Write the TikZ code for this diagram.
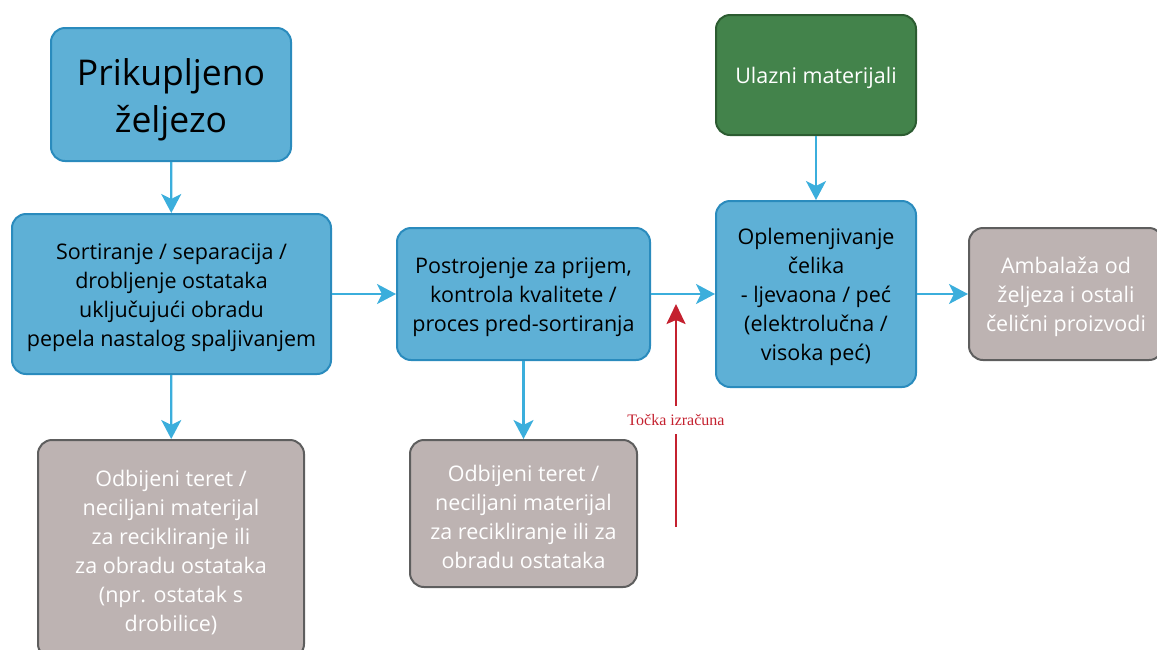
\documentclass[tikz,border=0pt]{standalone}
\usepackage{fontspec}
\setmainfont{Open Sans}
\newfontfamily\labelserif{Liberation Serif}
\usetikzlibrary{arrows.meta}
\definecolor{bfill}{HTML}{5EB0D6}
\definecolor{bdraw}{HTML}{2A8BBD}
\definecolor{gfill}{HTML}{43834B}
\definecolor{gdraw}{HTML}{2C5C31}
\definecolor{rfill}{HTML}{BDB3B2}
\definecolor{rdraw}{HTML}{5E5E5E}
\definecolor{arr}{HTML}{3BAEDC}
\definecolor{red1}{HTML}{C4212F}
\newcommand\firstup{\rule{0pt}{22.5pt}}
\newcommand\titleup{\rule{0pt}{37pt}}
\tikzset{
  box/.style={rounded corners=14pt, line width=2pt, align=center, inner sep=0pt,
    font=\fontsize{21.5}{29}\selectfont},
  bluebox/.style={box, fill=bfill, draw=bdraw, text=black},
  greenbox/.style={box, fill=gfill, draw=gdraw, text=white},
  greybox/.style={box, fill=rfill, draw=rdraw, text=white},
  flow/.style={draw=arr, line width=2.2pt, -{Stealth[length=19pt,width=20pt,inset=5pt]}},
  calc/.style={draw=red1, line width=2.5pt},
}
\begin{document}
\begin{tikzpicture}[x=1pt,y=-1pt]
\useasboundingbox (0,0) rectangle (1157,649);
\clip (0,0) rectangle (1157,649);
\node[bluebox, minimum width=240pt, minimum height=133pt, font=\fontsize{35.5}{47}\selectfont] (A) at (171,94.5) {\titleup Prikupljeno\\željezo};
\node[bluebox, minimum width=319pt, minimum height=160pt] (B) at (171.5,294) {\firstup Sortiranje / separacija /\\drobljenje ostataka\\uključujući obradu\\pepela nastalog spaljivanjem};
\node[bluebox, minimum width=253pt, minimum height=132pt] (C) at (523.5,294) {\firstup Postrojenje za prijem,\\kontrola kvalitete /\\proces pred-sortiranja};
\node[greenbox, minimum width=200pt, minimum height=120pt] (D) at (816,75) {\firstup Ulazni materijali};
\node[bluebox, minimum width=200pt, minimum height=186pt] (E) at (816,294) {\firstup Oplemenjivanje\\čelika\\- ljevaona / peć\\(elektrolučna /\\visoka peć)};
\node[greybox, minimum width=194pt, minimum height=132pt] (F) at (1066,294) {\firstup Ambalaža od\\željeza i ostali\\čelični proizvodi};
\node[greybox, minimum width=266pt, minimum height=218pt] (G) at (171,549) {\firstup Odbijeni teret /\\neciljani materijal\\za recikliranje ili\\za obradu ostataka\\(npr. ostatak s\\drobilice)};
\node[greybox, minimum width=227pt, minimum height=147pt] (H) at (523.5,513.5) {\firstup Odbijeni teret /\\neciljani materijal\\za recikliranje ili za\\obradu ostataka};
\draw[flow] (A) -- (B);
\draw[flow] (B) -- (G);
\draw[flow] (B) -- (C);
\draw[flow] (C) -- (H);
\draw[flow] (C) -- (E);
\draw[flow] (D) -- (E);
\draw[flow] (E) -- (F);
\node[text=red1, font=\labelserif\fontsize{16}{18}\selectfont, inner xsep=0pt, inner ysep=8pt] (L) at (676,420) {Točka izračuna};
\coordinate (r1) at (676,527);
\coordinate (r2) at (676,304);
\draw[calc] (r1) -- (L.south);
\draw[calc, -{Stealth[length=20pt,width=19pt,inset=4pt]}] (L.north) -- (r2);
\end{tikzpicture}
\end{document}
